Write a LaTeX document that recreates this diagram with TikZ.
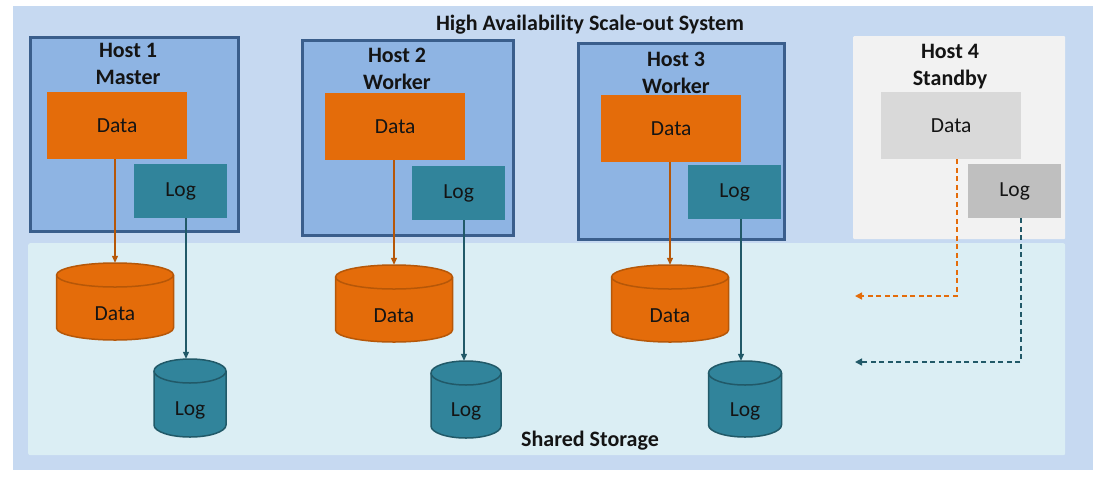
\documentclass[tikz,border=0pt]{standalone}
\usepackage{fontspec}
\setmainfont{Carlito}
\usetikzlibrary{arrows.meta}
\definecolor{outerbg}{HTML}{C6D9F1}
\definecolor{sharedbg}{HTML}{DBEEF4}
\definecolor{hostfill}{HTML}{8EB4E3}
\definecolor{hostborder}{HTML}{3A5E8C}
\definecolor{dataor}{HTML}{E46C0A}
\definecolor{dataline}{HTML}{B65708}
\definecolor{logteal}{HTML}{31849B}
\definecolor{logline}{HTML}{215968}
\definecolor{sbybg}{HTML}{F2F2F2}
\definecolor{sbydata}{HTML}{D9D9D9}
\definecolor{sbylog}{HTML}{BFBFBF}
\definecolor{ink}{HTML}{141414}
\newcommand\drum[8]{%
  \filldraw[fill=#6,draw=#7,line width=1.5pt] ({#2-#5},{#3+12}) -- ({#2-#5},{#4-12})
    arc[start angle=180,end angle=0,x radius=#5,y radius=12] -- ({#2+#5},{#3+12})
    arc[start angle=0,end angle=-180,x radius=#5,y radius=12] -- cycle;
  \draw[draw=#7,line width=1.5pt] ({#2-#5},{#3+12}) arc[start angle=180,end angle=0,x radius=#5,y radius=12];
  \node[inner sep=0,minimum width={2*#5},minimum height={#4-#3}] (#1) at (#2,{(#3+#4)/2}) {};
  \node[txt] (#1-t) at (#2,{(#3+24+#4)/2}) {#8};
}
\begin{document}
\begin{tikzpicture}[x=1pt,y=-1pt,
  txt/.style={font=\fontsize{21.5}{26}\selectfont, text=ink, inner sep=0},
  btxt/.style={font=\bfseries\fontsize{22}{27}\selectfont, text=ink, inner sep=0, align=center},
  hostbox/.style={draw=hostborder, line width=3pt, fill=hostfill, anchor=north west, inner sep=0},
  sbybox/.style={fill=sbybg, anchor=north west, inner sep=0, rounded corners=1pt},
  databox/.style={fill=dataor, anchor=north west, inner sep=0, minimum width=140, minimum height=67, font=\fontsize{21.5}{26}\selectfont, text=ink},
  logbox/.style={fill=logteal, anchor=north west, inner sep=0, minimum width=93, minimum height=54, font=\fontsize{21.5}{26}\selectfont, text=ink},
  dflow/.style={draw=dataline, line width=1.2pt, -{Triangle[length=7pt,width=6pt]}},
  lflow/.style={draw=logline, line width=1.2pt, -{Triangle[length=7pt,width=6pt]}},
  ddash/.style={draw=dataor, line width=1.5pt, dash pattern=on 5pt off 3.5pt, -{Triangle[length=7pt,width=7pt]}},
  ldash/.style={draw=logline, line width=1.5pt, dash pattern=on 5pt off 3.5pt, -{Triangle[length=7pt,width=7pt]}}
]
\useasboundingbox (0,0) rectangle (1100,480);
\fill[white] (0,0) rectangle (1100,480);
% outer
\node[fill=outerbg, anchor=north west, inner sep=0, minimum width=1080, minimum height=464] (outer) at (13,6) {};
\node[btxt] (title) at (590,25) {High Availability Scale-out System};
% shared storage
\node[fill=sharedbg, anchor=north west, inner sep=0, minimum width=1037, minimum height=212, rounded corners=2pt] (shared) at (28,243) {};
\node[btxt] (sharedt) at (590,441) {Shared Storage};
% hosts
\node[hostbox, minimum width=208, minimum height=194] (h1) at (29,36) {};
\node[hostbox, minimum width=211, minimum height=195] (h2) at (301,39) {};
\node[hostbox, minimum width=206, minimum height=196] (h3) at (577,42) {};
\node[sbybox, minimum width=212, minimum height=203] (h4) at (853,36) {};
\node[btxt] (h1t) at (128,63.5) {Host 1\\Master};
\node[btxt] (h2t) at (397,68.5) {Host 2\\Worker};
\node[btxt] (h3t) at (676,73) {Host 3\\Worker};
\node[btxt] (h4t) at (950,66.5) {Host 4\\Standby};
% data / log boxes
\node[databox] (d1) at (47,92) {Data};
\node[databox] (d2) at (325,93) {Data};
\node[databox] (d3) at (601,95) {Data};
\node[databox, fill=sbydata] (d4) at (881,92) {Data};
\node[logbox] (l1) at (134,164) {Log};
\node[logbox] (l2) at (412,166) {Log};
\node[logbox] (l3) at (688,165) {Log};
\node[logbox, fill=sbylog] (l4) at (968,164) {Log};
% cylinders
\drum{dc1}{115}{263}{340}{58.5}{dataor}{dataline}{Data}
\drum{lc1}{190}{359}{437}{36}{logteal}{logline}{Log}
\drum{dc2}{394}{265}{342}{58.5}{dataor}{dataline}{Data}
\drum{lc2}{466}{361}{438}{35}{logteal}{logline}{Log}
\drum{dc3}{670}{265}{342}{58.5}{dataor}{dataline}{Data}
\drum{lc3}{745}{361}{437}{36.5}{logteal}{logline}{Log}
% arrows
\draw[dflow] (dc1.north |- d1.south) -- (dc1.north);
\draw[lflow] (186,0 |- l1.south) -- (186,0 |- lc1.north);
\draw[dflow] (dc2.north |- d2.south) -- (dc2.north);
\draw[lflow] (464,0 |- l2.south) -- (464,0 |- lc2.north);
\draw[dflow] (dc3.north |- d3.south) -- (dc3.north);
\draw[lflow] (741,0 |- l3.south) -- (741,0 |- lc3.north);
% standby dashed
\coordinate (dend) at (855,296);
\coordinate (lend) at (855,362);
\draw[ddash] (957,0 |- d4.south) |- (dend);
\draw[ldash] (1021,0 |- l4.south) |- (lend);
\end{tikzpicture}
\end{document}
